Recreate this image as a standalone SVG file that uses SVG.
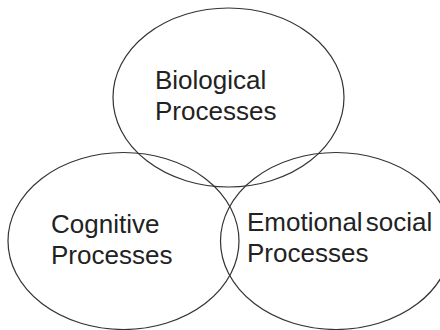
<svg xmlns="http://www.w3.org/2000/svg" width="440" height="330" viewBox="0 0 440 330">
<style>
.c{fill:none;stroke:#333;stroke-width:1.2}
.t{font-family:"Liberation Sans",Arial,sans-serif;font-size:26px;fill:#222}
</style>
<rect width="440" height="330" fill="#fff"/>
<g id="biological">
<ellipse class="c" cx="228.5" cy="97.5" rx="115.5" ry="89.5"/>
<text class="t" x="155" y="89">Biological</text>
<text class="t" x="155" y="120">Processes</text>
</g>
<g id="cognitive">
<ellipse class="c" cx="123.5" cy="241" rx="115.5" ry="88.5"/>
<text class="t" x="51" y="233">Cognitive</text>
<text class="t" x="51" y="264">Processes</text>
</g>
<g id="emotional">
<ellipse class="c" cx="336" cy="241" rx="115.5" ry="88.5"/>
<text class="t" x="247" y="231" word-spacing="-4">Emotional social</text>
<text class="t" x="247" y="262">Processes</text>
</g>
<g id="connectors"></g>
</svg>
